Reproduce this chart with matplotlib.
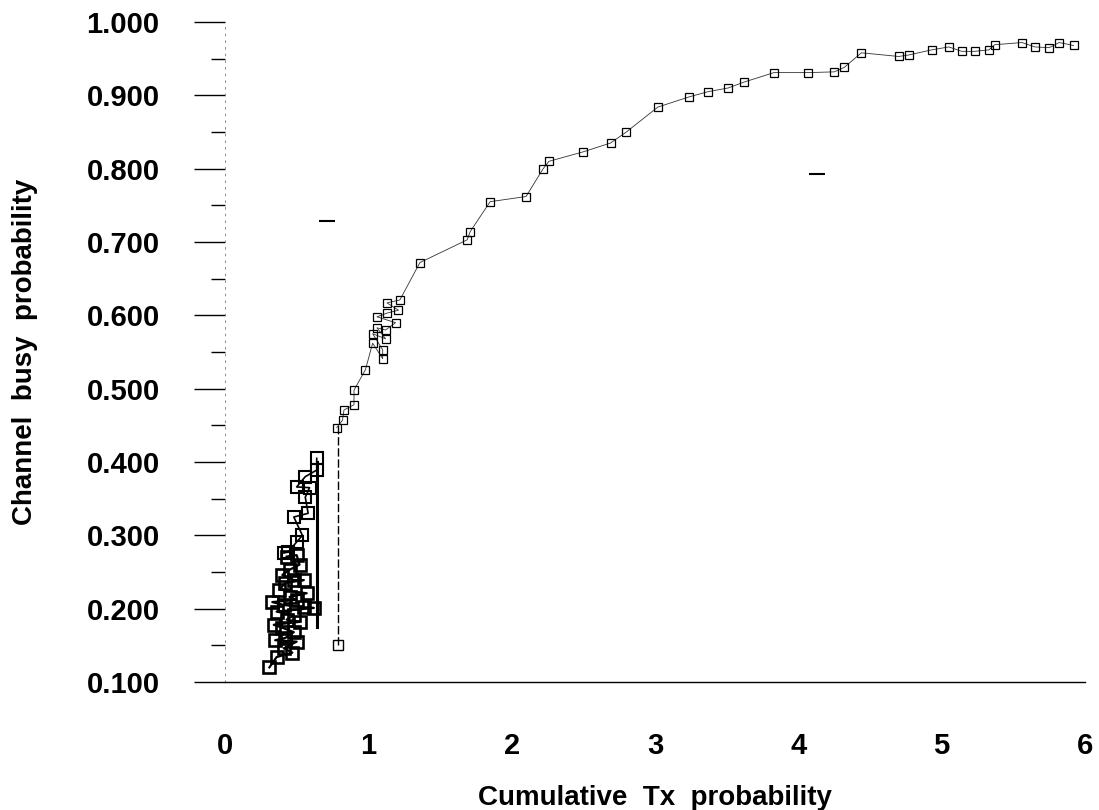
"""
Channel busy probability vs cumulative Tx probability (scanned plot recreation).
"""
import numpy as np
import matplotlib
matplotlib.use("Agg")
import matplotlib.pyplot as plt
from matplotlib.ticker import MultipleLocator, FormatStrFormatter

# dense cluster at low Tx probability
cluster_x = [0.43, 0.50, 0.52, 0.45, 0.40, 0.48, 0.55, 0.42, 0.38, 0.57, 0.45, 0.50,
             0.33, 0.41, 0.55, 0.62, 0.36, 0.48, 0.43, 0.52, 0.34, 0.40, 0.48, 0.42,
             0.35, 0.50, 0.41, 0.47, 0.36, 0.31]
cluster_y = [0.271, 0.273, 0.260, 0.253, 0.246, 0.239, 0.239, 0.235, 0.226, 0.221, 0.216, 0.212,
             0.209, 0.205, 0.202, 0.201, 0.196, 0.191, 0.185, 0.182, 0.178, 0.174, 0.168, 0.160,
             0.157, 0.155, 0.146, 0.140, 0.134, 0.120]

# upper part of the cluster
rise_x = [0.41, 0.44, 0.50, 0.54, 0.48, 0.58, 0.56, 0.59, 0.50, 0.56, 0.64, 0.64]
rise_y = [0.276, 0.277, 0.291, 0.300, 0.325, 0.330, 0.352, 0.365, 0.366, 0.380, 0.389, 0.405]

# vertical streaks
streak1_x = [0.64, 0.64]
streak1_y = [0.175, 0.400]
streak2_x = [0.79, 0.79]
streak2_y = [0.150, 0.450]

# main curve
curve_x = [0.78, 0.82, 0.83, 0.90, 0.90, 0.98, 1.03, 1.10, 1.10, 1.03, 1.12, 1.06, 1.12,
           1.19, 1.06, 1.13, 1.21, 1.13, 1.22, 1.36, 1.69, 1.71, 1.85, 2.10, 2.22, 2.26,
           2.50, 2.69, 2.80, 3.02, 3.24, 3.37, 3.51, 3.62, 3.83, 4.07, 4.25, 4.32, 4.44,
           4.70, 4.77, 4.93, 5.05, 5.14, 5.23, 5.33, 5.37, 5.56, 5.65, 5.75, 5.82, 5.92]
curve_y = [0.447, 0.457, 0.471, 0.478, 0.498, 0.526, 0.562, 0.541, 0.553, 0.575, 0.568, 0.583,
           0.580, 0.590, 0.598, 0.603, 0.607, 0.617, 0.621, 0.672, 0.703, 0.714, 0.755, 0.762,
           0.800, 0.810, 0.823, 0.835, 0.850, 0.884, 0.898, 0.905, 0.910, 0.918, 0.931, 0.931,
           0.932, 0.938, 0.958, 0.953, 0.955, 0.962, 0.966, 0.960, 0.960, 0.962, 0.969, 0.972,
           0.966, 0.965, 0.972, 0.968]

# stray points
stray_x = [0.71, 4.13]
stray_y = [0.729, 0.793]

xticks = [0, 1, 2, 3, 4, 5, 6]

plt.rcParams["font.family"] = ["Liberation Sans", "DejaVu Sans"]
plt.rcParams["font.weight"] = "bold"

fig = plt.figure(figsize=(10.99, 8.10), dpi=100)
ax = fig.add_axes([225 / 1099, 1 - 682 / 810, 860 / 1099, 660 / 810])

ax.plot(cluster_x, cluster_y, "-", color="black", lw=1.6, marker="s", ms=9,
        mfc="none", mew=1.9, clip_on=False)
ax.plot(rise_x, rise_y, "-", color="black", lw=1.2, marker="s", ms=8,
        mfc="none", mew=1.5, clip_on=False)
ax.plot(streak1_x, streak1_y, "-", color="black", lw=2.2)
ax.plot(streak2_x, streak2_y, "--", color="black", lw=1.0, dashes=(6, 2))
ax.plot(streak2_x[:1], streak2_y[:1], "s", color="black", ms=7, mfc="none", mew=1.0)
ax.plot(curve_x, curve_y, "-", color="#333333", lw=0.6, marker="s", ms=6,
        mfc="none", mec="black", mew=0.9, clip_on=False)
ax.plot(stray_x, stray_y, "_", color="black", ms=12, mew=1.5)

ax.set_xlim(0, 6)
ax.set_ylim(0.1, 1.0)
ax.set_xticks(xticks)
ax.yaxis.set_major_locator(MultipleLocator(0.1))
ax.yaxis.set_minor_locator(MultipleLocator(0.05))
ax.yaxis.set_major_formatter(FormatStrFormatter("%.3f"))

ax.tick_params(axis="x", length=0, pad=36, labelsize=21)
ax.tick_params(axis="y", which="major", length=22, width=1.0, pad=25, labelsize=21)
ax.tick_params(axis="y", which="minor", length=10, width=1.0)

for s in ["top", "right"]:
    ax.spines[s].set_visible(False)
ax.spines["left"].set_linestyle((0, (2, 6)))
ax.spines["left"].set_linewidth(0.6)
ax.spines["left"].set_color("#777777")
ax.spines["bottom"].set_linewidth(1.0)

ax.set_xlabel("Cumulative  Tx  probability", fontsize=20, fontweight="bold")
ax.set_ylabel("Channel  busy  probability", fontsize=20, fontweight="bold")
ax.xaxis.set_label_coords(0.5, -0.156)
ax.yaxis.set_label_coords(-0.2174, 0.5)

fig.savefig("out.png", dpi=100)
